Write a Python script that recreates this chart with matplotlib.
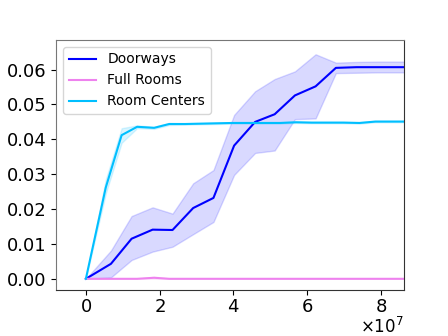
import matplotlib
matplotlib.use("Agg")
import matplotlib.pyplot as plt
from matplotlib.ticker import ScalarFormatter

# ── Data ──
door_x = [0, 0.68e7, 1.24e7, 1.81e7, 2.35e7, 2.91e7, 3.46e7, 4.02e7, 4.59e7,
          5.12e7, 5.67e7, 6.23e7, 6.78e7, 7.34e7, 7.90e7, 8.46e7, 9.02e7]
door_mean = [0.0, 0.0043, 0.0115, 0.0141, 0.0140, 0.0203, 0.0232, 0.0382, 0.0450,
             0.0472, 0.0526, 0.0552, 0.0605, 0.0607, 0.0607, 0.0607, 0.0607]
door_lo = [0.0, 0.0004, 0.0054, 0.0078, 0.0092, 0.0128, 0.0163, 0.0298, 0.0361,
           0.0368, 0.0458, 0.0460, 0.0590, 0.0591, 0.0592, 0.0592, 0.0592]
door_hi = [0.0, 0.0081, 0.0180, 0.0205, 0.0187, 0.0274, 0.0312, 0.0470, 0.0538,
           0.0573, 0.0595, 0.0644, 0.0620, 0.0622, 0.0623, 0.0623, 0.0623]

room_x = [0, 0.54e7, 0.97e7, 1.39e7, 1.85e7, 2.26e7, 2.69e7, 3.12e7, 3.55e7,
          3.98e7, 4.41e7, 4.84e7, 5.27e7, 5.70e7, 6.13e7, 6.56e7, 6.99e7,
          7.42e7, 7.85e7, 8.28e7, 8.71e7]
centers_mean = [0.0, 0.0262, 0.0412, 0.0436, 0.0433, 0.0444, 0.0444, 0.0445, 0.0446,
                0.0447, 0.0447, 0.0447, 0.0447, 0.0449, 0.0448, 0.0448, 0.0448,
                0.0447, 0.0451, 0.0451, 0.0451]
centers_lo = [0.0, 0.0245, 0.0390, 0.0432, 0.0430, 0.0441, 0.0442, 0.0443, 0.0444,
              0.0445, 0.0445, 0.0445, 0.0445, 0.0447, 0.0446, 0.0446, 0.0446,
              0.0445, 0.0449, 0.0449, 0.0449]
centers_hi = [0.0, 0.0285, 0.0432, 0.0440, 0.0436, 0.0447, 0.0446, 0.0447, 0.0448,
              0.0449, 0.0449, 0.0449, 0.0449, 0.0451, 0.0450, 0.0450, 0.0450,
              0.0449, 0.0453, 0.0453, 0.0453]

full_mean = [0.0, 0.0, 0.0, 0.0, 0.0003, 0.0, 0.0, 0.0, 0.0, 0.0, 0.0, 0.0,
             0.0, 0.0, 0.0, 0.0, 0.0, 0.0, 0.0, 0.0, 0.0]
full_lo = [0.0] * len(full_mean)
full_hi = [0.0, 0.0, 0.0, 0.0, 0.0006, 0.0001, 0.0, 0.0, 0.0, 0.0, 0.0, 0.0,
           0.0, 0.0, 0.0, 0.0, 0.0, 0.0, 0.0, 0.0, 0.0]

# ── Figure ──
fig = plt.figure(figsize=(4.48, 3.36), dpi=100)
ax = fig.add_axes([0.125, 0.137, 0.777, 0.744])

series = [
    ("Doorways", "blue", door_x, door_mean, door_lo, door_hi),
    ("Full Rooms", "violet", room_x, full_mean, full_lo, full_hi),
    ("Room Centers", "deepskyblue", room_x, centers_mean, centers_lo, centers_hi),
]
for label, color, xs, mean, lo, hi in series:
    ax.plot(xs, mean, color=color, label=label, linewidth=1.5)
    ax.fill_between(xs, lo, hi, color=color, alpha=0.15)

for side in ("top", "left"):
    ax.spines[side].set_color("#777")
for side in ("bottom", "right"):
    ax.spines[side].set_color("#333")

ax.set_xlim(-0.81e7, 8.63e7)
ax.set_ylim(-0.0032, 0.0685)
fmt = ScalarFormatter(useMathText=True)
fmt.set_powerlimits((0, 0))
ax.xaxis.set_major_formatter(fmt)
ax.set_xticks([0, 2e7, 4e7, 6e7, 8e7])
ax.set_yticks([0.0, 0.01, 0.02, 0.03, 0.04, 0.05, 0.06])
ax.tick_params(labelsize=13)
ax.tick_params(axis="x", pad=2.5)
# offset text placed by hand so it stays inside the canvas
ax.xaxis.get_offset_text().set_visible(False)
fig.text(0.902, 0.008, r"$\times10^{7}$", ha="right", va="baseline", fontsize=12)
ax.legend(loc="upper left", fontsize=10)

fig.savefig("out.png", dpi=100, facecolor="white")
